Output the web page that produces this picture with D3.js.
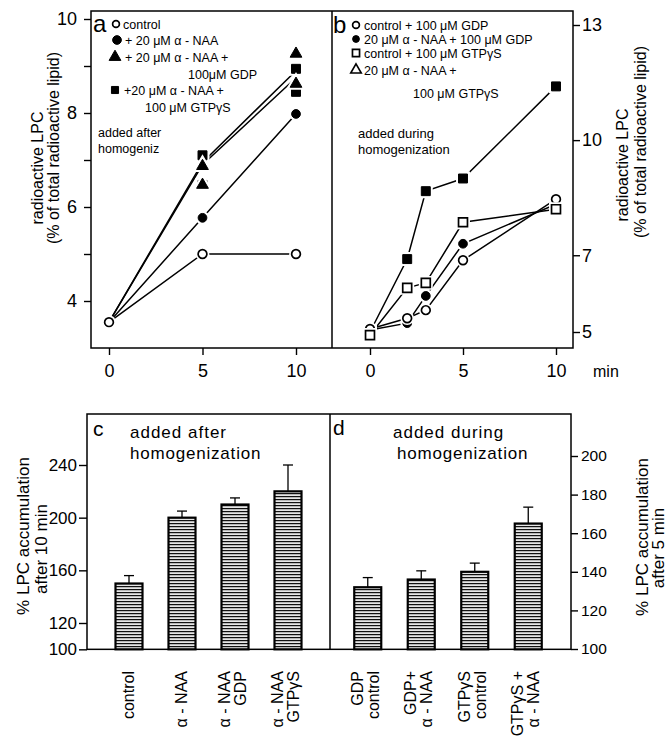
<!DOCTYPE html>
<html><head><meta charset="utf-8">
<script src="https://cdn.jsdelivr.net/npm/d3@7"></script>
<style>body{margin:0;background:#fff}svg{display:block}text{font-family:"Liberation Sans",Arial,sans-serif;fill:#000}</style>
</head><body>
<script>
// ---------- data ----------
const aTime = [0, 5, 10];
const aControl = [3.55, 5.0, 5.0];
const aNAA = [3.55, 5.77, 7.98];
const aGDPline = [3.55, 6.9, 8.75];
const aGTPline = [3.55, 6.95, 8.9];
const aGDPpts = [[5, 6.87], [5, 6.47], [10, 9.26], [10, 8.62]];
const aGTPpts = [[5, 7.1], [5, 6.47], [10, 8.94], [10, 8.45]];
const aYTicks = [4, 5, 6, 7, 8, 9, 10];
const aYLabels = [4, 6, 8, 10];
const xTicks = [0, 5, 10];

const bTime = [0, 2, 3, 5, 10];
const bCtrlGDP = [5.08, 5.36, 5.57, 6.87, 8.46];
const bNAAGDP = [5.05, 5.23, 5.94, 7.3, 8.33];
const bCtrlGTP = [4.92, 6.15, 6.28, 7.86, 8.2];
const bNAAGTP = [5.0, 6.9, 8.67, 9.0, 11.4];
const bYTicks = [5, 7, 10, 13];

const cCats = ["control", "NAA", "NAA_GDP", "NAA_GTP"];
const cLabels = [["control"], ["α - NAA"], ["α - NAA", "GDP"], ["α - NAA", "GTPγS"]];
const cVals = [150, 200, 210, 220];
const cErr = [6, 5, 5, 20];
const cTicks = [100, 120, 160, 200, 240];

const dCats = ["GDPctrl", "GDPNAA", "GTPctrl", "GTPNAA"];
const dLabels = [["GDP", "control"], ["GDP+", "α - NAA"], ["GTPγS", "control"], ["GTPγS +", "α - NAA"]];
const dVals = [132, 136, 140, 165];
const dErr = [5, 4.5, 4.5, 8.5];
const dTicks = [100, 120, 140, 160, 180, 200];

// ---------- setup ----------
const W = 667, H = 737;
const svg = d3.select("body").append("svg").attr("width", W).attr("height", H);
svg.append("rect").attr("width", W).attr("height", H).attr("fill", "#fff");
const defs = svg.append("defs");
const pat = defs.append("pattern").attr("id", "hatch").attr("width", 4).attr("height", 3)
  .attr("patternUnits", "userSpaceOnUse");
pat.append("rect").attr("width", 4).attr("height", 3).attr("fill", "#fff");
pat.append("rect").attr("y", 0.9).attr("width", 4).attr("height", 1.4).attr("fill", "#111");

const top1 = 11, bot1 = 348, left1 = 91, mid1 = 332, right1 = 573;
const xa = d3.scaleLinear().domain([0, 10]).range([109, 296]);
const ya = d3.scaleLinear().domain([4, 8]).range([301, 113]);
const xb = d3.scaleLinear().domain([0, 10]).range([370, 556]);
const yb = d3.scaleLinear().domain([5, 13]).range([332, 25]);

function styleAxis(g, fs) {
  g.select(".domain").remove();
  g.selectAll(".tick line").attr("stroke", "#000").attr("stroke-width", 1.4);
  g.selectAll(".tick text").attr("font-size", fs).attr("font-family", '"Liberation Sans",Arial,sans-serif').attr("fill", "#000");
}

// frame top panels
const frame = svg.append("g").attr("fill", "none").attr("stroke", "#000").attr("stroke-width", 1.5);
frame.append("rect").attr("x", left1).attr("y", top1).attr("width", right1 - left1).attr("height", bot1 - top1);
frame.append("line").attr("x1", mid1).attr("x2", mid1).attr("y1", top1).attr("y2", bot1);

// axes a
svg.append("g").attr("transform", `translate(${left1},0)`)
  .call(d3.axisLeft(ya).tickValues(aYTicks).tickFormat(d => aYLabels.includes(d) ? d : "").tickSize(7).tickPadding(7))
  .call(g => styleAxis(g, 18));
svg.append("g").attr("transform", `translate(0,${bot1})`)
  .call(d3.axisBottom(xa).tickValues(xTicks).tickSize(7).tickPadding(9))
  .call(g => styleAxis(g, 18));
// axes b
svg.append("g").attr("transform", `translate(${right1},0)`)
  .call(d3.axisRight(yb).tickValues(bYTicks).tickSize(7).tickPadding(2))
  .call(g => styleAxis(g, 18));
svg.append("g").attr("transform", `translate(0,${bot1})`)
  .call(d3.axisBottom(xb).tickValues(xTicks).tickSize(7).tickPadding(9))
  .call(g => styleAxis(g, 18));
svg.append("text").attr("x", 593).attr("y", 377).attr("font-size", 16).text("min");

// axis titles
function vtext(x, y, str, fs) {
  svg.append("text").attr("transform", `translate(${x},${y}) rotate(-90)`)
    .attr("text-anchor", "middle").attr("font-size", fs).text(str);
}
vtext(43, 168, "radioactive LPC", 16);
vtext(59, 148, "(% of total radioactive lipid)", 16);
vtext(628, 165, "radioactive LPC", 16);
vtext(646, 142, "(% of total radioactive lipid)", 16);

// markers
const sym = {
  circle: d3.symbol().type(d3.symbolCircle).size(60),
  square: d3.symbol().type(d3.symbolSquare).size(80),
  triangle: d3.symbol().type(d3.symbolTriangle).size(60)
};
const symS = {
  circle: d3.symbol().type(d3.symbolCircle).size(36),
  square: d3.symbol().type(d3.symbolSquare).size(50),
  triangle: d3.symbol().type(d3.symbolTriangle).size(48)
};
function marker(g, x, y, type, filled, small) {
  const s = small ? symS : sym;
  g.append("path").attr("d", s[type]()).attr("transform", `translate(${x},${y})`)
    .attr("fill", "#fff").attr("stroke", "#fff").attr("stroke-width", 5);
  g.append("path").attr("d", s[type]()).attr("transform", `translate(${x},${y})`)
    .attr("fill", filled ? "#000" : "#fff").attr("stroke", "#000").attr("stroke-width", filled ? 1 : 1.7);
}
function series(g, xs, ys, xsc, ysc) {
  const line = d3.line().x((d, i) => xsc(xs[i])).y(d => ysc(d));
  g.append("path").datum(ys).attr("d", line).attr("fill", "none").attr("stroke", "#000").attr("stroke-width", 1.5);
}

// panel a
const ga = svg.append("g");
series(ga, aTime, aGDPline, xa, ya);
series(ga, aTime, aGTPline, xa, ya);
series(ga, aTime, aNAA, xa, ya);
series(ga, aTime, aControl, xa, ya);
const gam = svg.append("g");
aNAA.forEach((v, i) => { if (i > 0) marker(gam, xa(aTime[i]), ya(v), "circle", true); });
aGTPpts.forEach(p => marker(gam, xa(p[0]), ya(p[1]), "square", true));
aGDPpts.forEach(p => marker(gam, xa(p[0]), ya(p[1]), "triangle", true));
aControl.forEach((v, i) => marker(gam, xa(aTime[i]), ya(v), "circle", false));

// panel b
const gb = svg.append("g");
series(gb, bTime, bNAAGTP, xb, yb);
series(gb, bTime, bCtrlGTP, xb, yb);
series(gb, bTime, bNAAGDP, xb, yb);
series(gb, bTime, bCtrlGDP, xb, yb);
const gbm = svg.append("g");
bNAAGTP.forEach((v, i) => marker(gbm, xb(bTime[i]), yb(v), "square", true));
bNAAGDP.forEach((v, i) => marker(gbm, xb(bTime[i]), yb(v), "circle", true));
bCtrlGDP.forEach((v, i) => marker(gbm, xb(bTime[i]), yb(v), "circle", false));
bCtrlGTP.forEach((v, i) => marker(gbm, xb(bTime[i]), yb(v), "square", false));

// legends & panel text a
const leg = svg.append("g");
function ltext(x, y, str, fs = 12.5) { leg.append("text").attr("x", x).attr("y", y).attr("font-size", fs).text(str); }
leg.append("text").attr("x", 93).attr("y", 32).attr("font-size", 24).text("a");
marker(leg, 116, 24, "circle", false, true); ltext(123, 29, "control");
marker(leg, 117, 40, "circle", true); ltext(125, 45, "+  20 μM  α - NAA");
marker(leg, 115, 57, "triangle", true); ltext(125, 62, "+ 20 μM α - NAA +");
ltext(188, 79, "100μM  GDP");
marker(leg, 115, 90, "square", true, true); ltext(124, 95, "+20 μM  α - NAA +");
ltext(145, 112, "100 μM  GTPγS");
ltext(98, 137, "added after", 12.5);
ltext(98, 153, "homogeniz", 12.5);
// legend b
leg.append("text").attr("x", 333).attr("y", 33).attr("font-size", 24).text("b");
marker(leg, 356, 25, "circle", false, true); ltext(364, 30, "control + 100 μM  GDP");
marker(leg, 356, 39, "circle", true, true); ltext(364, 44, "20 μM  α - NAA  + 100 μM  GDP");
marker(leg, 356, 53, "square", false, true); ltext(364, 58, "control + 100 μM GTPγS");
leg.append("path").attr("d", symS.triangle()).attr("transform", "translate(356,70)").attr("fill", "#fff").attr("stroke", "#000").attr("stroke-width", 1.6);
ltext(364, 75, "20 μM  α - NAA +");
ltext(413, 98, "100 μM  GTPγS");
ltext(358, 138, "added  during", 13);
ltext(358, 154, "homogenization", 13);

// ---------- bottom panels ----------
const top2 = 414, left2 = 87, mid2 = 330, right2 = 571;
const yc = d3.scaleLinear().domain([120, 240]).range([623, 465]);
const yd = d3.scaleLinear().domain([100, 200]).range([649, 456]);
const bot2 = yc(100);
const xc = d3.scaleBand().domain(cCats).range([102.5, 314.5]);
const xd = d3.scaleBand().domain(dCats).range([341, 555]);
const bw = 27;

const frame2 = svg.append("g").attr("fill", "none").attr("stroke", "#000").attr("stroke-width", 1.5);
frame2.append("rect").attr("x", left2).attr("y", top2).attr("width", right2 - left2).attr("height", bot2 - top2);
frame2.append("line").attr("x1", mid2).attr("x2", mid2).attr("y1", top2).attr("y2", bot2);

svg.append("g").attr("transform", `translate(${left2},0)`)
  .call(d3.axisLeft(yc).tickValues(cTicks).tickSize(8).tickPadding(2))
  .call(g => styleAxis(g, 17));
svg.append("g").attr("transform", `translate(${right2},0)`)
  .call(d3.axisRight(yd).tickValues(dTicks).tickSize(7).tickPadding(3))
  .call(g => styleAxis(g, 15.5));

function bars(cats, vals, errs, labels, xs, ys) {
  const g = svg.append("g");
  cats.forEach((c, i) => {
    const cx = xs(c) + xs.bandwidth() / 2;
    const yt = ys(vals[i]);
    const ye = ys(vals[i] + errs[i]);
    g.append("line").attr("x1", cx).attr("x2", cx).attr("y1", yt).attr("y2", ye).attr("stroke", "#000").attr("stroke-width", 1.3);
    g.append("line").attr("x1", cx - 5).attr("x2", cx + 5).attr("y1", ye).attr("y2", ye).attr("stroke", "#000").attr("stroke-width", 1.3);
    g.append("rect").attr("x", cx - bw / 2).attr("y", yt).attr("width", bw).attr("height", bot2 - yt)
      .attr("fill", "url(#hatch)").attr("stroke", "#000").attr("stroke-width", 2.2);
    const lines = labels[i];
    lines.forEach((t, j) => {
      const bx = lines.length === 1 ? cx + 5 : cx - 5 + j * 16;
      g.append("text").attr("transform", `translate(${bx},671) rotate(-90)`)
        .attr("text-anchor", "end").attr("font-size", 16).text(t);
    });
  });
}
bars(cCats, cVals, cErr, cLabels, xc, yc);
bars(dCats, dVals, dErr, dLabels, xd, yd);

// panel texts c/d
svg.append("text").attr("x", 93).attr("y", 436).attr("font-size", 21).text("c");
svg.append("text").attr("x", 130).attr("y", 438).attr("font-size", 17).attr("letter-spacing", 1).text("added  after");
svg.append("text").attr("x", 130).attr("y", 459).attr("font-size", 17).attr("letter-spacing", 0.8).text("homogenization");
svg.append("text").attr("x", 333).attr("y", 435).attr("font-size", 21).text("d");
svg.append("text").attr("x", 393).attr("y", 438).attr("font-size", 17).attr("letter-spacing", 1).text("added  during");
svg.append("text").attr("x", 397).attr("y", 459).attr("font-size", 17).attr("letter-spacing", 0.8).text("homogenization");

vtext(29, 536, "% LPC accumulation", 17);
vtext(47, 549, "after 10 min", 17);
vtext(648, 537, "% LPC accumulation", 17);
vtext(664, 548, "after  5  min", 17);
</script>
</body></html>
